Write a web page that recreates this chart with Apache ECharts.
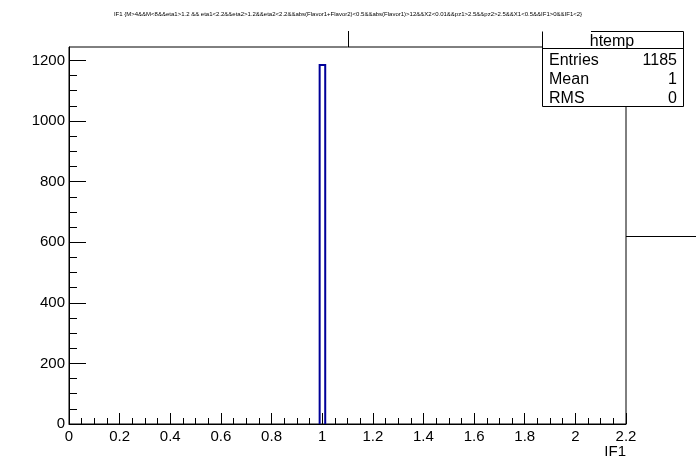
<!DOCTYPE html>
<html>
<head>
<meta charset="utf-8">
<script src="https://cdn.jsdelivr.net/npm/echarts@6/dist/echarts.min.js"></script>
<style>
html,body{margin:0;padding:0;background:#fff;}
#c{width:696px;height:472px;}
</style>
</head>
<body>
<div id="c"></div>
<script>
// ---- data ----
const titleText = "IF1 {M>4&&M<8&&eta1>1.2 && eta1<2.2&&eta2>1.2&&eta2<2.2&&abs(Flavor1+Flavor2)<0.5&&abs(Flavor1)>12&&X2<0.01&&pz1>2.5&&pz2>2.5&&X1<0.5&&IF1>0&&IF1<2}";
const binLow = [0.99];
const binHigh = [1.012];
const counts = [1185];
const xTitle = "IF1";
const statsName = "htemp";
const statsLabels = ["Entries", "Mean", "RMS"];
const statsValues = ["1185", "1", "0"];
const yMajorTicks = [0, 200, 400, 600, 800, 1000, 1200];
const yMinorTicks = [50, 100, 150, 250, 300, 350, 450, 500, 550, 650, 700, 750, 850, 900, 950, 1050, 1100, 1150];
const xMin = 0, xMax = 2.2, xStep = 0.2;
const yMin = 0, yMax = 1244.25, yStep = 200;

const FONT = '"Liberation Sans", Arial, Helvetica, sans-serif';
const chart = echarts.init(document.getElementById('c'), null, {renderer: 'canvas'});

const histData = binLow.map((lo, i) => [lo, binHigh[i], counts[i]]);

const statsGraphics = [];
statsGraphics.push({type:'rect', shape:{x:542.5, y:31.5, width:141, height:75}, style:{fill:'#fff', stroke:null}, z:10});
statsGraphics.push({type:'line', shape:{x1:591, y1:31.5, x2:683.5, y2:31.5}, style:{stroke:'#000', lineWidth:1}, z:11});
statsGraphics.push({type:'line', shape:{x1:542.5, y1:31.5, x2:542.5, y2:106.5}, style:{stroke:'#000', lineWidth:1}, z:11});
statsGraphics.push({type:'line', shape:{x1:683.5, y1:31.5, x2:683.5, y2:106.5}, style:{stroke:'#000', lineWidth:1}, z:11});
statsGraphics.push({type:'line', shape:{x1:542.5, y1:106.5, x2:683.5, y2:106.5}, style:{stroke:'#000', lineWidth:1}, z:11});
statsGraphics.push({type:'line', shape:{x1:542.5, y1:48.5, x2:683.5, y2:48.5}, style:{stroke:'#000', lineWidth:1}, z:11});
statsGraphics.push({type:'text', x:612, y:42, style:{text:statsName, fontFamily:FONT, fontSize:16, fill:'#000', align:'center', verticalAlign:'middle'}, z:12});
statsLabels.forEach((lab, i) => {
  const yy = 61 + i * 19;
  statsGraphics.push({type:'text', x:549, y:yy, style:{text:lab, fontFamily:FONT, fontSize:16, fill:'#000', align:'left', verticalAlign:'middle'}, z:12});
  statsGraphics.push({type:'text', x:677, y:yy, style:{text:statsValues[i], fontFamily:FONT, fontSize:16, fill:'#000', align:'right', verticalAlign:'middle'}, z:12});
});

const yAxisBase = {
  type: 'value', min: yMin, max: yMax, position: 'left', offset: 0, z: 5,
  splitLine: {show: false}
};

const option = {
  animation: false,
  backgroundColor: '#fff',
  title: {
    text: titleText,
    left: 348, top: 11, textAlign: 'center', padding: 0,
    textStyle: {fontFamily: FONT, fontSize: 6, fontWeight: 'normal', color: '#000'}
  },
  grid: {left: 69, right: 70, top: 47, bottom: 48, show: true, borderColor: '#000', borderWidth: 1, backgroundColor: 'transparent'},
  xAxis: {
    type: 'value', min: xMin, max: xMax, interval: xStep, z: 5,
    axisLine: {show: true, onZero: false, lineStyle: {color: '#000', width: 1}},
    axisTick: {show: true, inside: true, length: 11, lineStyle: {color: '#000', width: 1}},
    minorTick: {show: true, splitNumber: 4, length: 6, lineStyle: {color: '#000', width: 1}},
    splitLine: {show: false},
    axisLabel: {fontFamily: FONT, fontSize: 15, color: '#000', margin: 5}
  },
  yAxis: [
    Object.assign({}, yAxisBase, {
      interval: yStep,
      axisLine: {show: true, onZero: false, lineStyle: {color: '#000', width: 1}},
      axisTick: {show: true, inside: true, length: 17, customValues: yMajorTicks, lineStyle: {color: '#000', width: 1}},
      minorTick: {show: false},
      axisLabel: {fontFamily: FONT, fontSize: 15, color: '#000', margin: 4, customValues: yMajorTicks,
                  formatter: function (v) { return String(v); }}
    }),
    Object.assign({}, yAxisBase, {
      interval: 50,
      axisLine: {show: false},
      axisTick: {show: true, inside: true, length: 8, customValues: yMinorTicks, lineStyle: {color: '#000', width: 1}},
      minorTick: {show: false},
      axisLabel: {show: false}
    })
  ],
  series: [{
    type: 'custom',
    data: histData,
    clip: true,
    z: 2,
    renderItem: function (params, api) {
      const p0 = api.coord([api.value(0), 0]);
      const p1 = api.coord([api.value(1), api.value(2)]);
      return {
        type: 'polyline',
        shape: {points: [[p0[0], p0[1]], [p0[0], p1[1]], [p1[0], p1[1]], [p1[0], p0[1]]]},
        style: {stroke: '#000099', lineWidth: 2, fill: null}
      };
    }
  }],
  graphic: [
    {type:'line', shape:{x1:348.5, y1:31, x2:348.5, y2:47}, style:{stroke:'#000', lineWidth:1}},
    {type:'line', shape:{x1:626, y1:236.5, x2:696, y2:236.5}, style:{stroke:'#000', lineWidth:1}},
    {type:'text', x:626, y:452, style:{text:xTitle, fontFamily:FONT, fontSize:15, fill:'#000', align:'right', verticalAlign:'middle'}},
    ...statsGraphics
  ]
};
chart.setOption(option);
</script>
</body>
</html>
